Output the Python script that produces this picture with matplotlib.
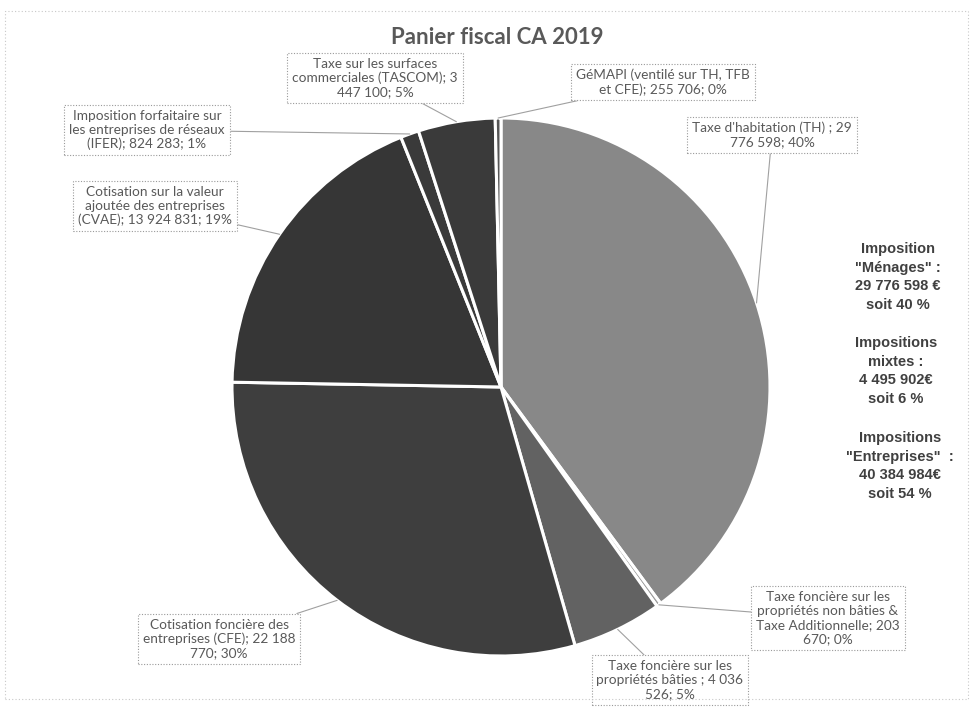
import numpy as np
import matplotlib
matplotlib.use("Agg")
import matplotlib.pyplot as plt
from matplotlib.patches import Rectangle

# ---- data ----
categories = [
    "Taxe d'habitation (TH) ; 29\n776 598; 40%",
    "Taxe foncière sur les\npropriétés non bâties &\nTaxe Additionnelle; 203\n670; 0%",
    "Taxe foncière sur les\npropriétés bâties ; 4 036\n526; 5%",
    "Cotisation foncière des\nentreprises (CFE); 22 188\n770; 30%",
    "Cotisation sur la valeur\najoutée des entreprises\n(CVAE); 13 924 831; 19%",
    "Imposition forfaitaire sur\nles entreprises de réseaux\n(IFER); 824 283; 1%",
    "Taxe sur les surfaces\ncommerciales (TASCOM); 3\n447 100; 5%",
    "GéMAPI (ventilé sur TH, TFB\net CFE); 255 706; 0%",
]
values = [29776598, 203670, 4036526, 22188770, 13924831, 824283, 3447100, 255706]
colors = ["#888888", "#9a9a9a", "#626262", "#3e3e3e", "#363636", "#3a3a3a", "#3a3a3a", "#555555"]
title = "Panier fiscal CA 2019"
side_blocks = [
    "Imposition\n\"Ménages\" :\n29 776 598 €\nsoit 40 %",
    "Impositions\nmixtes :\n4 495 902€\nsoit 6 %",
    "Impositions\n\"Entreprises\"  :\n40 384 984€\nsoit 54 %",
]

# ---- layout (pixels) ----
W, H = 976, 709
label_pos_px = [(772, 135), (828, 618), (670, 680), (219, 639),
                (155, 206), (147, 130), (375, 78), (663, 82)]
side_pos_px = [(898, 277), (896, 371), (900, 466)]

fig = plt.figure(figsize=(W / 100, H / 100), dpi=100)
fig.patch.set_facecolor("white")

cx, cy, r = 501, 387, 269
ax = fig.add_axes([(cx - r) / W, (H - cy - r) / H, 2 * r / W, 2 * r / H])
wedges, _ = ax.pie(values, colors=colors, startangle=90, counterclock=False,
                   wedgeprops=dict(edgecolor="white", linewidth=2.2))
ax.set_xlim(-1, 1)
ax.set_ylim(-1, 1)
ax.set_aspect("equal")
ax.axis("off")

for w, lab, (px, py) in zip(wedges, categories, label_pos_px):
    ang = np.deg2rad((w.theta1 + w.theta2) / 2)
    xy = (np.cos(ang), np.sin(ang))
    ax.annotate(lab, xy=xy, xycoords="data",
                xytext=(px / W, 1 - py / H), textcoords="figure fraction",
                ha="center", va="center", fontsize=9.8, color="#595959",
                family=["Lato", "DejaVu Sans"], linespacing=1.2,
                bbox=dict(boxstyle="square,pad=0.35", fc="white", ec="#9a9a9a",
                          lw=0.8, ls=(0, (1, 1.5))),
                arrowprops=dict(arrowstyle="-", color="#a0a0a0", lw=0.8,
                                shrinkA=0, shrinkB=0),
                annotation_clip=False)

fig.text(497 / W, 1 - 38 / H, title, ha="center", va="center", fontsize=16,
         fontweight="bold", color="#595959", family=["Lato", "DejaVu Sans"])

for txt, (px, py) in zip(side_blocks, side_pos_px):
    fig.text(px / W, 1 - py / H, txt, ha="center", va="center", fontsize=10.5,
             fontweight="bold", color="#404040", linespacing=1.42,
             family=["Liberation Sans", "DejaVu Sans"])

fig.patches.append(Rectangle((5 / W, 10 / H), 963 / W, 688 / H,
                             transform=fig.transFigure, fill=False,
                             ec="#c8c8c8", lw=0.8, ls=(0, (1, 2))))

fig.savefig("out.png", dpi=100, facecolor="white")
